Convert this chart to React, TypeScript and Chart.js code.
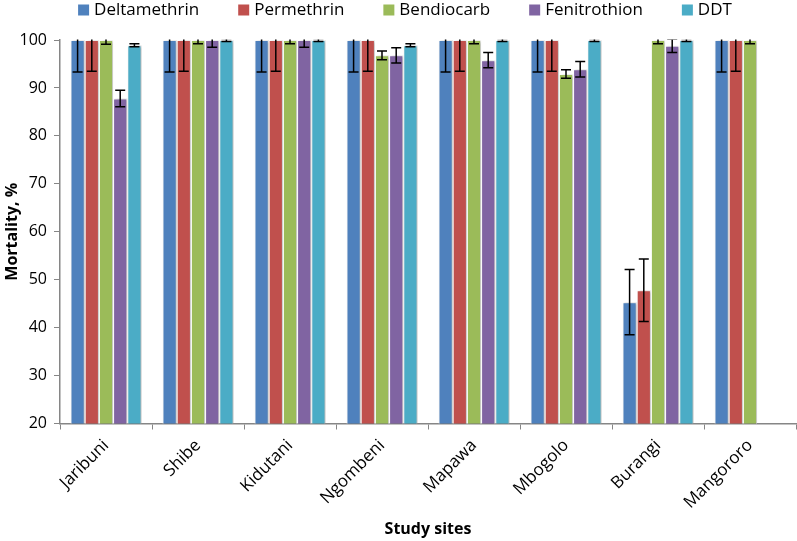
import { useEffect, useRef } from "react";
import { Chart, registerables } from "chart.js";

Chart.register(...registerables);

const sites = ["Jaribuni", "Shibe", "Kidutani", "Ngombeni", "Mapawa", "Mbogolo", "Burangi", "Mangororo"];
const insecticides = ["Deltamethrin", "Permethrin", "Bendiocarb", "Fenitrothion", "DDT"];
const colors = ["#4F81BD", "#C0504D", "#9BBB59", "#8064A2", "#4BACC6"];

const deltamethrin = [100, 100, 100, 100, 100, 100, 45.3, 100];
const deltamethrinErr = [6.7, 6.7, 6.7, 6.7, 6.7, 6.7, 6.8, 6.7];
const permethrin = [100, 100, 100, 100, 100, 100, 47.8, 100];
const permethrinErr = [6.5, 6.5, 6.5, 6.5, 6.5, 6.5, 6.5, 6.5];
const bendiocarb = [100, 100, 100, 96.8, 100, 92.9, 100, 100];
const bendiocarbErr = [0.9, 0.8, 0.8, 0.9, 0.8, 0.9, 0.8, 0.8];
const fenitrothion = [87.8, 100, 100, 96.8, 95.8, 93.9, 98.8, null];
const fenitrothionErr = [1.7, 1.5, 1.5, 1.6, 1.6, 1.6, 1.4, null];
const ddt = [98.9, 100, 100, 98.9, 100, 100, 100, null];
const ddtErr = [0.3, 0.3, 0.3, 0.3, 0.3, 0.3, 0.3, null];

const seriesValues = [deltamethrin, permethrin, bendiocarb, fenitrothion, ddt];
const seriesErrors = [deltamethrinErr, permethrinErr, bendiocarbErr, fenitrothionErr, ddtErr];

const yMin = 20;
const yMax = 100;
const yStep = 10;

const FONT = "'Open Sans', 'DejaVu Sans', sans-serif";

const errorBarPlugin = {
  id: "errorBars",
  beforeDatasetsDraw(chart: any) {
    const ctx = chart.ctx;
    ctx.save();
    ctx.shadowColor = "rgba(0,0,0,0.28)";
    ctx.shadowBlur = 3;
    ctx.shadowOffsetX = 2;
    ctx.shadowOffsetY = 0;
  },
  afterDatasetsDraw(chart: any) {
    const ctx = chart.ctx;
    ctx.restore();
    const yScale = chart.scales.y;
    const area = chart.chartArea;
    ctx.save();
    ctx.beginPath();
    ctx.rect(area.left, area.top - 0.5, area.right - area.left, area.bottom - area.top + 1);
    ctx.clip();
    ctx.strokeStyle = "#000";
    ctx.lineWidth = 1.5;
    chart.data.datasets.forEach((ds: any, di: number) => {
      const meta = chart.getDatasetMeta(di);
      const errs = seriesErrors[di];
      meta.data.forEach((bar: any, i: number) => {
        const v = ds.data[i];
        const e = errs[i];
        if (v == null || e == null) return;
        const x = bar.x;
        const yLo = yScale.getPixelForValue(v - e);
        const yHi = yScale.getPixelForValue(v + e);
        const cap = 5;
        ctx.beginPath();
        ctx.moveTo(x, yLo);
        ctx.lineTo(x, yHi);
        ctx.moveTo(x - cap, yLo);
        ctx.lineTo(x + cap, yLo);
        ctx.moveTo(x - cap, yHi);
        ctx.lineTo(x + cap, yHi);
        ctx.stroke();
      });
    });
    ctx.restore();
  },
};

const legendPlugin = {
  id: "customLegend",
  afterDraw(chart: any) {
    const ctx = chart.ctx;
    ctx.save();
    ctx.font = `17px ${FONT}`;
    ctx.textBaseline = "middle";
    const box = 11;
    const gap = 5;
    const spacing = 39;
    const widths = insecticides.map((t) => box + gap + ctx.measureText(t).width);
    const total = widths.reduce((a, b) => a + b, 0) + spacing * (insecticides.length - 1);
    let x = 405 - total / 2;
    const yc = 10;
    insecticides.forEach((t, i) => {
      ctx.fillStyle = colors[i];
      ctx.fillRect(x, yc - box / 2, box, box);
      ctx.fillStyle = "#000";
      ctx.fillText(t, x + box + gap, yc + 0.5);
      x += widths[i] + spacing;
    });
    ctx.restore();
  },
};

export default function App() {
  const canvasRef = useRef<HTMLCanvasElement | null>(null);

  useEffect(() => {
    document.body.style.margin = "0";
    const canvas = canvasRef.current;
    if (!canvas) return;
    const chart = new Chart(canvas, {
      type: "bar",
      data: {
        labels: sites,
        datasets: insecticides.map((name, i) => ({
          label: name,
          data: seriesValues[i] as any,
          backgroundColor: colors[i],
          borderColor: "#FFFFFF",
          borderWidth: 1,
          categoryPercentage: 0.772,
          barPercentage: 1.0,
        })),
      },
      options: {
        animation: false,
        responsive: false,
        maintainAspectRatio: false,
        layout: { padding: { top: 40, right: 1, left: 0, bottom: 0 } },
        plugins: {
          legend: { display: false },
          tooltip: { enabled: false },
        },
        scales: {
          x: {
            grid: {
              display: true,
              drawOnChartArea: false,
              offset: true,
              tickLength: 6,
              color: "#868686",
              lineWidth: 1,
            },
            border: { display: true, color: "#868686", width: 1.5 },
            ticks: {
              color: "#000",
              font: { family: FONT, size: 17 },
              minRotation: 45,
              maxRotation: 45,
              padding: 6,
            },
            title: {
              display: true,
              text: "Study sites",
              color: "#000",
              font: { family: FONT, size: 16, weight: "bold" },
              padding: { top: 0, bottom: 2 },
            },
            afterFit(scale: any) {
              scale.height = 117.5;
            },
          },
          y: {
            min: yMin,
            max: yMax,
            grid: {
              display: true,
              drawOnChartArea: false,
              tickLength: 6,
              color: "#868686",
              lineWidth: 1,
            },
            border: { display: true, color: "#868686", width: 1.5 },
            ticks: {
              stepSize: yStep,
              color: "#000",
              font: { family: FONT, size: 16 },
              padding: 7,
            },
            title: {
              display: true,
              text: "Mortality, %",
              color: "#000",
              font: { family: FONT, size: 16, weight: "bold" },
              padding: { top: 3, bottom: 0 },
            },
            afterFit(scale: any) {
              scale.width = 60;
            },
          },
        },
      },
      plugins: [errorBarPlugin, legendPlugin],
    });
    return () => chart.destroy();
  }, []);

  return (
    <div style={{ width: 797, height: 541, position: "relative" }}>
      <canvas ref={canvasRef} width={797} height={541} style={{ display: "block" }} />
    </div>
  );
}
